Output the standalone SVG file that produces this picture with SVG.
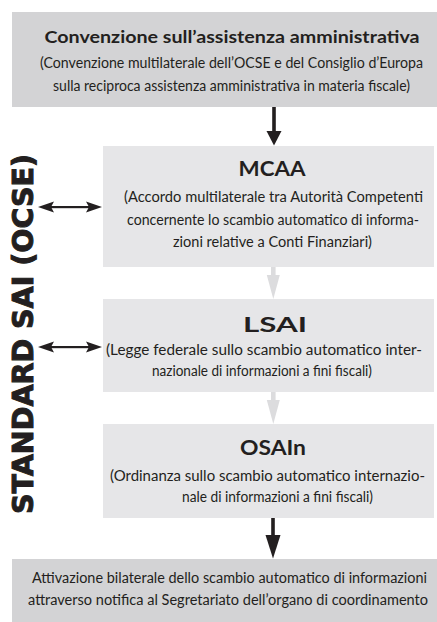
<svg xmlns="http://www.w3.org/2000/svg" width="437" height="622" viewBox="0 0 437 622">
<style>
.dark{fill:#d3d3d5}
.light{fill:#e6e6e8}
.t{font-family:Lato,"Open Sans","Liberation Sans",sans-serif;fill:#231f20;text-anchor:middle}
.b{font-size:14.5px}
.h{font-weight:bold}
</style>
<rect width="437" height="622" fill="#ffffff"/>
<g id="convenzione">
<rect class="dark" x="12" y="12" width="425" height="95"/>
<text class="t h" x="232" y="43" font-size="17.5" textLength="375" lengthAdjust="spacingAndGlyphs">Convenzione sull’assistenza amministrativa</text>
<text class="t b" x="231.5" y="68" textLength="383" lengthAdjust="spacingAndGlyphs">(Convenzione multilaterale dell’OCSE e del Consiglio d’Europa</text>
<text class="t b" x="231.5" y="91" textLength="357" lengthAdjust="spacingAndGlyphs">sulla reciproca assistenza amministrativa in materia fiscale)</text>
</g>
<g id="mcaa">
<rect class="light" x="103" y="146" width="331" height="121"/>
<text class="t h" x="272" y="176" font-size="21" textLength="67" lengthAdjust="spacingAndGlyphs">MCAA</text>
<text class="t b" x="273.5" y="202" textLength="299" lengthAdjust="spacingAndGlyphs">(Accordo multilaterale tra Autorità Competenti</text>
<text class="t b" x="273" y="225" textLength="292" lengthAdjust="spacingAndGlyphs">concernente lo scambio automatico di informa-</text>
<text class="t b" x="272.5" y="247" textLength="199" lengthAdjust="spacingAndGlyphs">zioni relative a Conti Finanziari)</text>
</g>
<g id="lsai">
<rect class="light" x="103" y="299" width="331" height="93"/>
<text class="t h" x="275" y="332" font-size="21" textLength="64" lengthAdjust="spacingAndGlyphs">LSAI</text>
<text class="t b" x="264" y="355" textLength="316" lengthAdjust="spacingAndGlyphs">(Legge federale sullo scambio automatico inter-</text>
<text class="t b" x="262" y="376" textLength="220" lengthAdjust="spacingAndGlyphs">nazionale di informazioni a fini fiscali)</text>
</g>
<g id="osain">
<rect class="light" x="103" y="424" width="331" height="94"/>
<text class="t h" x="273" y="455" font-size="21" textLength="66" lengthAdjust="spacingAndGlyphs">OSAIn</text>
<text class="t b" x="267.5" y="481" textLength="315" lengthAdjust="spacingAndGlyphs">(Ordinanza sullo scambio automatico internazio-</text>
<text class="t b" x="277.5" y="502" textLength="191" lengthAdjust="spacingAndGlyphs">nale di informazioni a fini fiscali)</text>
</g>
<g id="attivazione">
<rect class="dark" x="12" y="559" width="425" height="63"/>
<text class="t b" x="229.5" y="583" textLength="395" lengthAdjust="spacingAndGlyphs">Attivazione bilaterale dello scambio automatico di informazioni</text>
<text class="t b" x="228" y="605" textLength="400" lengthAdjust="spacingAndGlyphs">attraverso notifica al Segretariato dell’organo di coordinamento</text>
</g>
<g id="standard">
<text transform="translate(33,334) rotate(-90)" font-family="'DejaVu Sans',Verdana,sans-serif" font-weight="bold" font-size="28" fill="#231f20" stroke="#231f20" stroke-width="1" text-anchor="middle" textLength="360" lengthAdjust="spacingAndGlyphs">STANDARD SAI (OCSE)</text>
</g>
<g id="connectors">
<rect x="272.2" y="107" width="3.6" height="25" fill="#231f20"/>
<polygon points="266.5,131 281.5,131 274,145.5" fill="#231f20"/>
<rect x="271.2" y="518" width="3.6" height="18" fill="#231f20"/>
<polygon points="265.5,535 280.5,535 273,558.5" fill="#231f20"/>
<rect x="271" y="267" width="4.6" height="9" fill="#dcdcde"/>
<polygon points="266.8,275 279.8,275 273.3,299" fill="#dcdcde"/>
<rect x="271" y="392" width="4.6" height="9" fill="#dcdcde"/>
<polygon points="266.8,400 279.8,400 273.3,424" fill="#dcdcde"/>
<rect x="50" y="206" width="40" height="2.2" fill="#231f20"/>
<polygon points="38,207 54,201.5 51,207 54,212.5" fill="#231f20"/>
<polygon points="102,207 86,201.5 89,207 86,212.5" fill="#231f20"/>
<rect x="50" y="346" width="40" height="2.2" fill="#231f20"/>
<polygon points="38,347 54,341.5 51,347 54,352.5" fill="#231f20"/>
<polygon points="102,347 86,341.5 89,347 86,352.5" fill="#231f20"/>
</g>
</svg>
